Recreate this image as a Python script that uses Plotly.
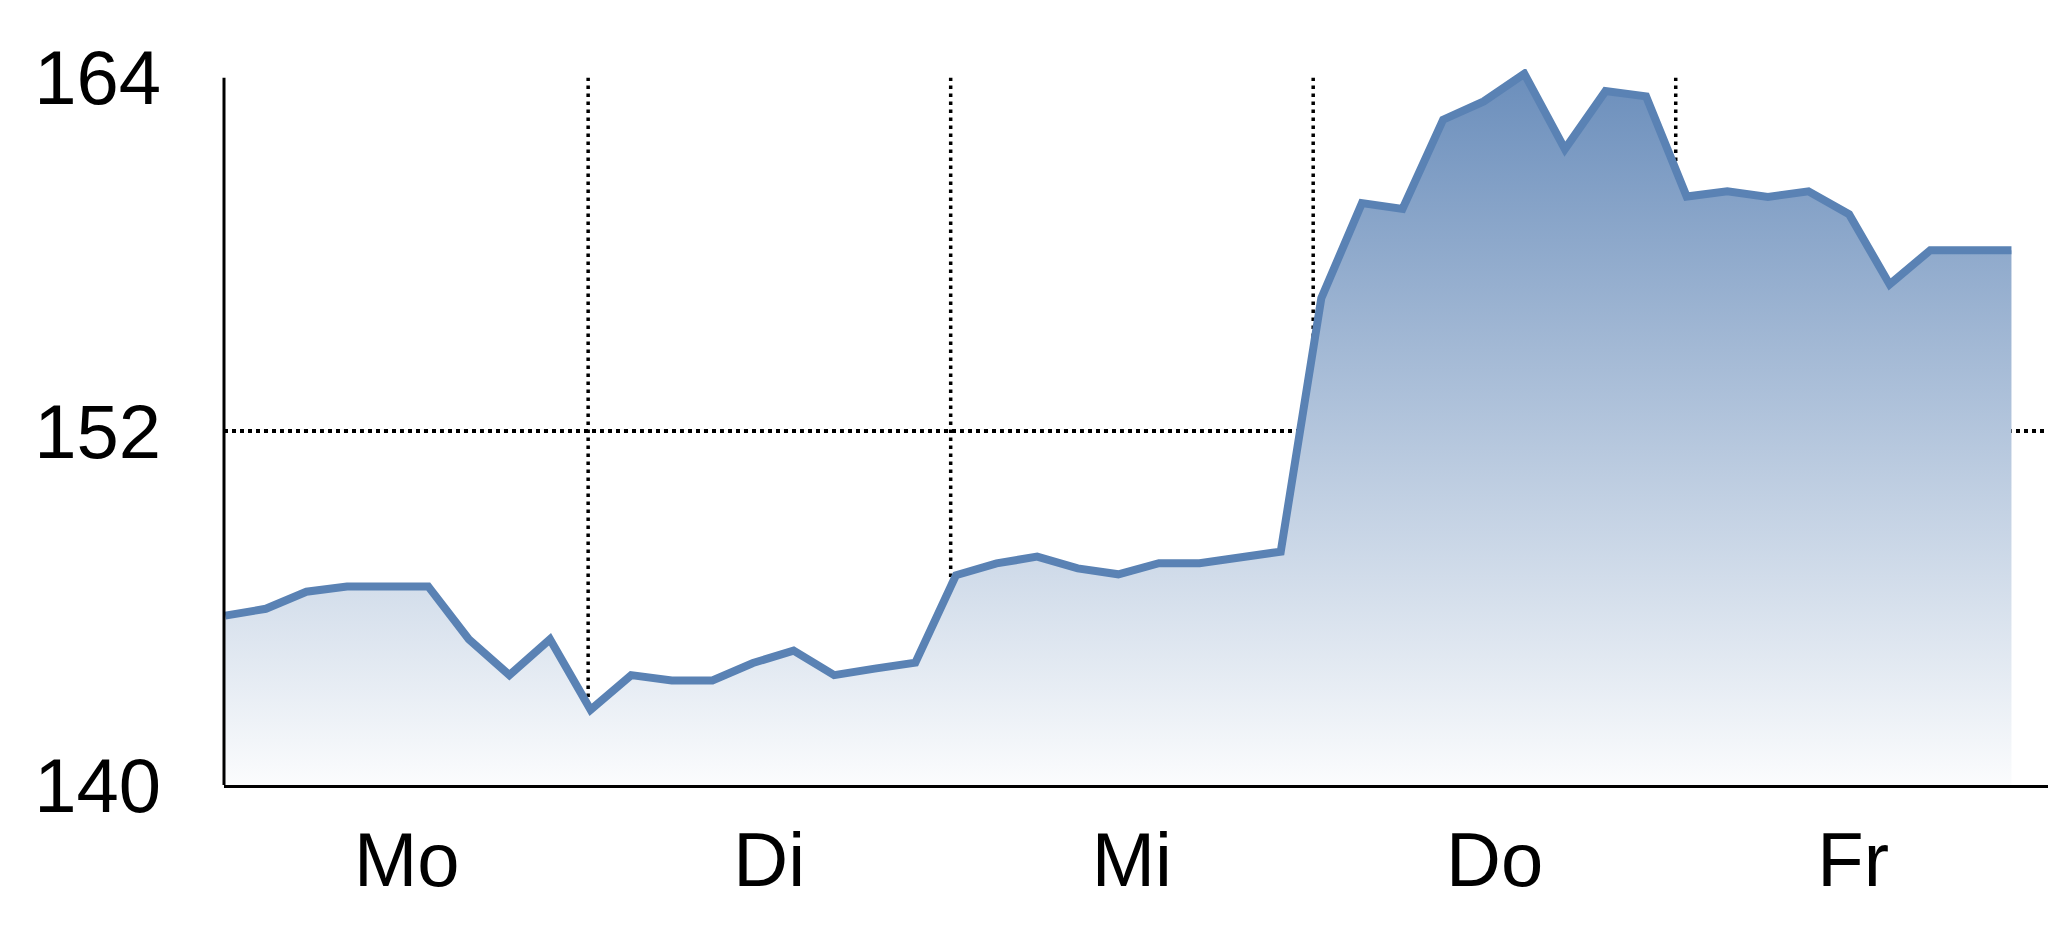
import plotly.graph_objects as go

# ---- data ----
price = [145.75, 145.98, 146.56, 146.74, 146.74, 146.74, 144.95, 143.73, 144.95, 142.55,
         143.73, 143.55, 143.55, 144.14, 144.56, 143.73, 143.95, 144.15, 147.12, 147.52,
         147.75, 147.35, 147.15, 147.53, 147.53, 147.71, 147.92, 156.52, 159.75, 159.55,
         162.58, 163.20, 164.14, 161.58, 163.55, 163.37, 159.97, 160.15, 159.96, 160.15,
         159.37, 156.99, 158.15, 158.15, 158.15]
idx = list(range(len(price)))

days = ["Mo", "Di", "Mi", "Do", "Fr"]
day_label_pos = [4.47, 13.40, 22.33, 31.27, 40.10]
day_bounds = [8.94, 17.87, 26.80, 35.73]

y_ticks = [140, 152, 164]
y_grid = [152]

FONT = "Liberation Sans Narrow, Liberation Sans, Arial, sans-serif"
FSIZE = 76
LINE_COLOR = "#5a82b4"
DOT = "3.5px,4.5px"

fig = go.Figure()
fig.add_trace(go.Scatter(
    x=idx, y=price, mode="lines",
    line=dict(color=LINE_COLOR, width=8),
    fill="tozeroy",
    fillgradient=dict(type="vertical", start=140, stop=164,
                      colorscale=[[0, "#fbfcfd"], [1, "#6c8fbc"]]),
    hoverinfo="skip", showlegend=False,
))

shapes = []
for b in day_bounds:
    shapes.append(dict(type="line", xref="x", yref="y", x0=b, x1=b, y0=y_ticks[0], y1=y_ticks[-1],
                       line=dict(color="black", width=3.5, dash=DOT), layer="below"))
# y axis line from 140 to 164
shapes.append(dict(type="line", xref="paper", yref="y", x0=0, x1=0, y0=y_ticks[0], y1=y_ticks[-1],
                   line=dict(color="black", width=3), layer="above"))

fig.update_layout(
    width=2048, height=937,
    margin=dict(l=224, r=0, t=69, b=152, pad=0),
    paper_bgcolor="white", plot_bgcolor="white",
    font=dict(family=FONT, size=FSIZE, color="black"),
    shapes=shapes,
    xaxis=dict(range=[-0.03, 44.9], tickvals=day_label_pos, ticktext=days,
               showgrid=False, zeroline=False, showline=True, linecolor="black", linewidth=3,
               ticks="", ticklabelstandoff=7, tickfont=dict(family=FONT, size=FSIZE, color="black")),
    yaxis=dict(range=[140, 164.3], tickvals=y_ticks, showgrid=False, zeroline=False,
               showline=False, ticks="", ticklabelstandoff=62,
               tickfont=dict(family=FONT, size=FSIZE, color="black"),
               minor=dict(tickvals=y_grid, showgrid=True, gridcolor="black", gridwidth=3.5,
                          griddash=DOT, ticks="")),
)

fig.write_html("out.html",
               config={"displayModeBar": False},
               post_script="document.body.style.margin='0';document.body.style.overflow='hidden';")
